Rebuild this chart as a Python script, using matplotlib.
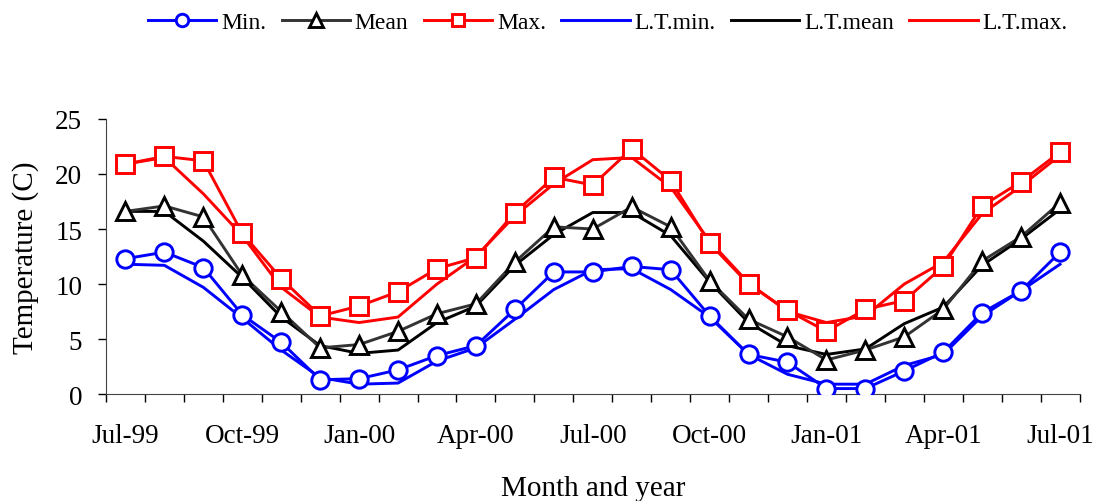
import matplotlib.pyplot as plt
import numpy as np

months = ['Jul-99', 'Aug-99', 'Sep-99', 'Oct-99', 'Nov-99', 'Dec-99', 'Jan-00', 'Feb-00', 'Mar-00',
          'Apr-00', 'May-00', 'Jun-00', 'Jul-00', 'Aug-00', 'Sep-00', 'Oct-00', 'Nov-00', 'Dec-00',
          'Jan-01', 'Feb-01', 'Mar-01', 'Apr-01', 'May-01', 'Jun-01', 'Jul-01']

t_min = [12.3, 12.9, 11.5, 7.2, 4.7, 1.3, 1.4, 2.2, 3.5, 4.4, 7.7, 11.1, 11.1, 11.6, 11.3, 7.1,
         3.6, 2.9, 0.5, 0.5, 2.1, 3.8, 7.4, 9.4, 12.9]
t_mean = [16.6, 17.1, 16.1, 10.8, 7.5, 4.2, 4.5, 5.7, 7.3, 8.2, 12.0, 15.2, 15.0, 17.0, 15.2, 10.3,
          6.8, 5.2, 3.1, 4.0, 5.2, 7.7, 12.1, 14.3, 17.4]
t_max = [20.9, 21.6, 21.2, 14.6, 10.5, 7.1, 8.0, 9.3, 11.4, 12.4, 16.5, 19.7, 19.0, 22.3, 19.4, 13.7,
         10.0, 7.6, 5.7, 7.7, 8.5, 11.6, 17.1, 19.3, 22.0]
lt_min = [11.8, 11.7, 9.7, 6.9, 4.0, 1.5, 0.9, 1.0, 3.0, 4.2, 6.8, 9.5, 11.3, 11.4, 9.5, 7.0,
          3.6, 1.8, 0.9, 0.9, 2.6, 3.6, 7.1, 9.4, 11.8]
lt_mean = [16.6, 16.6, 13.9, 10.6, 7.0, 4.4, 3.7, 4.0, 6.5, 8.0, 11.7, 14.5, 16.5, 16.5, 14.4, 10.2,
           6.5, 4.4, 3.6, 4.1, 6.4, 7.9, 11.7, 14.1, 16.8]
lt_max = [20.9, 21.5, 18.2, 14.4, 9.7, 7.0, 6.5, 7.0, 10.0, 12.5, 16.2, 19.1, 21.3, 21.5, 18.8, 13.9,
          10.1, 7.5, 6.5, 7.1, 10.0, 12.0, 16.4, 18.9, 21.7]

plt.rcParams['font.family'] = ['Liberation Serif', 'DejaVu Serif']

fig = plt.figure(figsize=(10.96, 5.02), dpi=100)
ax = fig.add_axes([0.0967, 0.213, 0.8883, 0.548])

x = np.arange(len(months))
lw = 2.1
ms = 12.5
ax.plot(x, lt_min, color='#0000FF', lw=lw, label='L.T.min.', zorder=2)
ax.plot(x, lt_mean, color='black', lw=lw, label='L.T.mean', zorder=2)
ax.plot(x, lt_max, color='#FF0000', lw=lw, label='L.T.max.', zorder=2)
ax.plot(x, t_min, color='#0000FF', lw=lw, marker='o', ms=ms, mfc='white', mec='#0000FF', mew=2.1,
        label='Min.', zorder=3)
ax.plot(x, t_mean, color='#333333', lw=lw, marker='^', ms=ms + 1, mfc='white', mec='black', mew=2.1,
        label='Mean', zorder=3)
ax.plot(x, t_max, color='#FF0000', lw=lw, marker='s', ms=ms, mfc='white', mec='#FF0000', mew=2.1,
        label='Max.', zorder=3)

ax.set_xlim(-0.5, len(months) - 0.5)
ax.set_ylim(0, 25)
ax.set_yticks([0, 5, 10, 15, 20, 25])
ax.set_xticks(x[::3])
ax.set_xticklabels(months[::3])
ax.set_xticks(np.arange(-0.5, len(months), 1), minor=True)
ax.tick_params(axis='x', which='major', length=0, pad=21, labelsize=19.5)
ax.tick_params(axis='x', which='minor', length=6, width=1, direction='out')
ax.tick_params(axis='y', length=6, width=1, direction='out', labelsize=19.5, pad=11)
for s in ['top', 'right']:
    ax.spines[s].set_visible(False)
for s in ['left', 'bottom']:
    ax.spines[s].set_color('#444444')

ax.set_xlabel('Month and year', fontsize=21, labelpad=19)
ax.set_ylabel('Temperature (C)', fontsize=21, labelpad=12)

h, l = ax.get_legend_handles_labels()
order = [3, 4, 5, 0, 1, 2]
fig.legend([h[i] for i in order], [l[i] for i in order], ncol=6, loc='center left',
           bbox_to_anchor=(148 / 1096, 1 - 23 / 502), frameon=False, fontsize=17,
           handlelength=2.9, handletextpad=0.2, columnspacing=0.65, markerscale=0.72,
           borderpad=0, borderaxespad=0)

fig.savefig('out.png', dpi=100)
